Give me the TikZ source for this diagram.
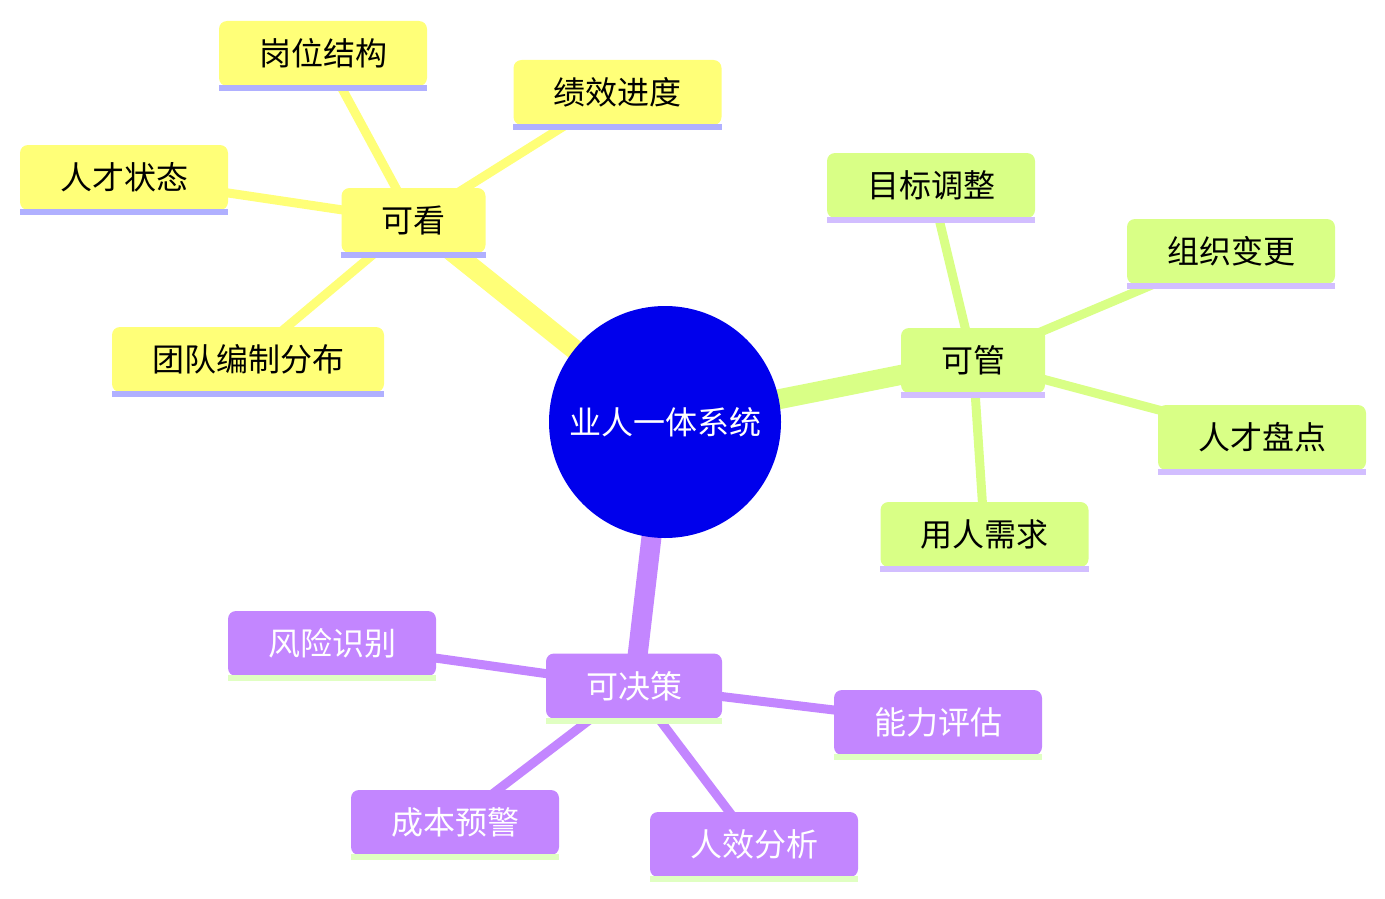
\documentclass[tikz,border=0pt]{standalone}
\usepackage{fontspec}
\setmainfont{Noto Sans CJK SC}
\usetikzlibrary{
    positioning,
    calc,
}
\definecolor{rootblue}{HTML}{0000EC}
\definecolor{kkfill}{HTML}{FFFF78}
\definecolor{kkline}{HTML}{B0B0FF}
\definecolor{kgfill}{HTML}{D9FF86}
\definecolor{kgline}{HTML}{D2BEFF}
\definecolor{kjfill}{HTML}{C386FF}
\definecolor{kjline}{HTML}{E0FFC2}
\pgfdeclarelayer{edges}
\pgfsetlayers{edges,main}

\begin{document}
\begin{tikzpicture}[
        x=1pt, y=-1pt,
        topic/.style={rectangle, rounded corners=8pt, inner xsep=40pt,
            inner ysep=0pt, minimum height=65pt,
            font=\fontsize{32}{38}\selectfont},
        kknode/.style={topic, fill=kkfill, text=black},
        kgnode/.style={topic, fill=kgfill, text=black},
        kjnode/.style={topic, fill=kjfill, text=white},
        trunk/.style={line width=20pt},
        twig/.style={line width=9pt},
    ]
        \useasboundingbox (0,0) rectangle (1385,899);

        % Root
        \node[circle, fill=rootblue, minimum size=232pt, inner sep=0pt,
            text=white, font=\fontsize{32}{38}\selectfont] (root) at (665,422) {业人一体系统};

        % Yellow branch
        \node[kknode] (kk) at (413.5,220.5) {可看};
        \node[kknode] (gw) at (323,53.5) {岗位结构};
        \node[kknode] (jx) at (617.5,92.5) {绩效进度};
        \node[kknode] (rc) at (124,177.5) {人才状态};
        \node[kknode] (td) at (248,359.5) {团队编制分布};

        % Green branch
        \node[kgnode] (kg) at (973,360.5) {可管};
        \node[kgnode] (mb) at (931,185.5) {目标调整};
        \node[kgnode] (zz) at (1231,251.5) {组织变更};
        \node[kgnode] (pd) at (1262,437.5) {人才盘点};
        \node[kgnode] (yr) at (984.5,534.5) {用人需求};

        % Purple branch
        \node[kjnode] (kj) at (634,686) {可决策};
        \node[kjnode] (fx) at (332,643.5) {风险识别};
        \node[kjnode] (nl) at (938,722.5) {能力评估};
        \node[kjnode] (cb) at (455,822.5) {成本预警};
        \node[kjnode] (rx) at (754,844.5) {人效分析};

        % Edges, behind the nodes
        \begin{pgfonlayer}{edges}
            \draw[trunk, kkfill] (root.center) -- (kk.center);
            \draw[trunk, kgfill] (root.center) -- (kg.center);
            \draw[trunk, kjfill] (root.center) -- (kj.center);
            \foreach \n in {gw,jx,rc,td}
                \draw[twig, kkfill] (kk.center) -- (\n.center);
            \foreach \n in {mb,zz,pd,yr}
                \draw[twig, kgfill] (kg.center) -- (\n.center);
            \foreach \n in {fx,nl,cb,rx}
                \draw[twig, kjfill] (kj.center) -- (\n.center);
        \end{pgfonlayer}

        % Underlines
        \foreach \n/\c in {kk/kkline, gw/kkline, jx/kkline, rc/kkline, td/kkline,
                kg/kgline, mb/kgline, zz/kgline, pd/kgline, yr/kgline,
                kj/kjline, fx/kjline, nl/kjline, cb/kjline, rx/kjline}
            \fill[\c] ([yshift=1pt]\n.south west) rectangle ([yshift=-5pt]\n.south east);
    \end{tikzpicture}
\end{document}
